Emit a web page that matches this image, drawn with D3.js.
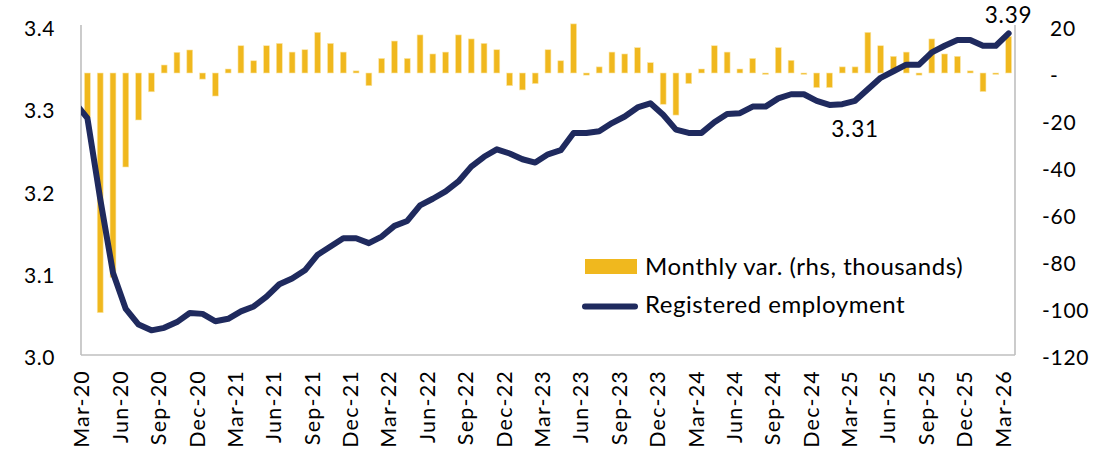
<!DOCTYPE html>
<html><head><meta charset="utf-8">
<script src="https://cdn.jsdelivr.net/npm/d3@7"></script>
<style>
body{margin:0;background:#fff}
svg{display:block}
text{font-family:Lato,"Open Sans",sans-serif;fill:#000}
</style>
</head><body>
<svg id="c" width="1120" height="456"></svg>
<script>
const months = [
 "Mar-20","Apr-20","May-20","Jun-20","Jul-20","Aug-20","Sep-20","Oct-20","Nov-20","Dec-20",
 "Jan-21","Feb-21","Mar-21","Apr-21","May-21","Jun-21","Jul-21","Aug-21","Sep-21","Oct-21","Nov-21","Dec-21",
 "Jan-22","Feb-22","Mar-22","Apr-22","May-22","Jun-22","Jul-22","Aug-22","Sep-22","Oct-22","Nov-22","Dec-22",
 "Jan-23","Feb-23","Mar-23","Apr-23","May-23","Jun-23","Jul-23","Aug-23","Sep-23","Oct-23","Nov-23","Dec-23",
 "Jan-24","Feb-24","Mar-24","Apr-24","May-24","Jun-24","Jul-24","Aug-24","Sep-24","Oct-24","Nov-24","Dec-24",
 "Jan-25","Feb-25","Mar-25","Apr-25","May-25","Jun-25","Jul-25","Aug-25","Sep-25","Oct-25","Nov-25","Dec-25",
 "Jan-26","Feb-26","Mar-26"];

// Monthly variation, thousands (right axis)
const monthlyVar = [
 -19,-102,-87,-40,-20,-8,3.4,8.8,9.8,-2.6,
 -9.8,1.7,11.6,5.2,11.6,12.6,8.9,9.9,17.3,12.6,8.9,0.9,
 -5.4,6.2,13.6,6.2,16.2,8.1,8.9,16.2,14.5,12.6,9.9,-5.4,
 -7.2,-4.5,9.9,5.2,20.9,-0.9,2.6,8.9,8.1,10.8,4.4,-13.3,
 -17.9,-4.5,1.7,11.6,8.9,1.7,6.2,-0.6,10.8,5.4,-0.6,-6.2,
 -6.2,2.6,2.6,17.3,11.6,7.1,8.9,-0.9,14.5,8.1,7.1,0.9,
 -7.9,-0.6,15.5];

// Registered employment, millions (left axis)
const employmentPrior = 3.307; // Feb-20, just left of the plot
const employment = [
 3.288,3.190,3.100,3.056,3.037,3.030,3.033,3.040,3.051,3.050,
 3.041,3.044,3.053,3.059,3.071,3.086,3.093,3.103,3.122,3.132,3.142,3.142,
 3.136,3.144,3.157,3.163,3.182,3.190,3.199,3.211,3.229,3.241,3.250,3.245,
 3.238,3.234,3.244,3.249,3.270,3.270,3.272,3.282,3.290,3.301,3.306,3.292,
 3.274,3.270,3.270,3.283,3.293,3.294,3.302,3.302,3.312,3.317,3.317,3.309,
 3.304,3.305,3.309,3.323,3.337,3.345,3.353,3.353,3.368,3.376,3.383,3.383,
 3.376,3.376,3.391];

const xTickLabels = ["Mar-20","Jun-20","Sep-20","Dec-20","Mar-21","Jun-21","Sep-21","Dec-21",
 "Mar-22","Jun-22","Sep-22","Dec-22","Mar-23","Jun-23","Sep-23","Dec-23","Mar-24","Jun-24",
 "Sep-24","Dec-24","Mar-25","Jun-25","Sep-25","Dec-25","Mar-26"];
const leftTicks = [3.0,3.1,3.2,3.3,3.4];
const rightTicks = [-120,-100,-80,-60,-40,-20,0,20];
const annotations = [{month:"Mar-25", value:3.31, text:"3.31", pos:"below"},
                     {month:"Mar-26", value:3.39, text:"3.39", pos:"above"}];

const BAR = "#F0B81E", LINE = "#1F2A5E", AXIS = "#BFBFBF";
const L = 81, R = 1015, T = 26, B = 355;

const svg = d3.select("#c");
const x = d3.scaleBand().domain(months).range([L, R]).paddingInner(0.54).paddingOuter(0.27);
const step = x.step(), bw = x.bandwidth();
const cx = m => x(m) + bw / 2;
const yL = d3.scaleLinear().domain([3.0, 3.4]).range([B, T]);
const yR = d3.scaleLinear().domain([-120, 20]).range([B, T]);

// bars
svg.append("g").selectAll("rect").data(monthlyVar).join("rect")
  .attr("x", (d, i) => x(months[i]))
  .attr("width", bw)
  .attr("y", d => yR(Math.max(0, d)))
  .attr("height", d => Math.max(0.8, Math.abs(yR(d) - yR(0))))
  .attr("fill", BAR)
  .attr("stroke", "#FBE6A8").attr("stroke-width", 0.6);

// axes lines
const ax = svg.append("g").attr("stroke", AXIS).attr("stroke-width", 1.6).attr("fill", "none");
ax.append("line").attr("x1", L).attr("x2", L).attr("y1", T - 1).attr("y2", B);
ax.append("line").attr("x1", R).attr("x2", R).attr("y1", T - 1).attr("y2", B);
ax.append("line").attr("x1", L).attr("x2", R).attr("y1", B).attr("y2", B);

// line
svg.append("clipPath").attr("id", "clip").append("rect")
  .attr("x", L).attr("y", 0).attr("width", R - L + 20).attr("height", 456);
const pts = [[x(months[0]) + bw / 2 - step, employmentPrior]]
  .concat(employment.map((v, i) => [cx(months[i]), v]));
svg.append("path").datum(pts)
  .attr("clip-path", "url(#clip)")
  .attr("d", d3.line().x(d => d[0]).y(d => yL(d[1])))
  .attr("fill", "none").attr("stroke", LINE).attr("stroke-width", 6)
  .attr("stroke-linejoin", "round").attr("stroke-linecap", "round");

// left axis labels
svg.append("g").selectAll("text").data(leftTicks).join("text")
  .attr("x", 55).attr("y", d => yL(d) + 1.5)
  .attr("text-anchor", "end").attr("dominant-baseline", "central")
  .style("font-size", "21px").style("letter-spacing", "0.6px")
  .text(d => d3.format(".1f")(d));

// right axis labels (accounting style: zero shown as "-")
svg.append("g").selectAll("text").data(rightTicks).join("text")
  .attr("x", d => d < 0 ? 1042 : 1050).attr("y", d => yR(d) + 1.5)
  .attr("text-anchor", "start").attr("dominant-baseline", "central")
  .style("font-size", "21px").style("letter-spacing", "0.7px")
  .text(d => d === 0 ? "-" : d3.format("d")(d).replace("−", "-"));

// x labels
svg.append("g").selectAll("text").data(xTickLabels).join("text")
  .attr("transform", d => `translate(${cx(d) + 2},370) rotate(-90)`)
  .attr("text-anchor", "end")
  .style("font-size", "21.5px").style("letter-spacing", "1.2px")
  .text(d => d);

// annotations
svg.append("g").selectAll("text").data(annotations).join("text")
  .attr("x", d => cx(d.month))
  .attr("y", d => d.pos === "above" ? yL(d.value) - 11 : yL(d.value) + 37)
  .attr("text-anchor", "middle")
  .style("font-size", "22.5px").style("letter-spacing", "0.8px")
  .text(d => d.text);

// legend
const lg = svg.append("g");
lg.append("rect").attr("x", 585).attr("y", 259).attr("width", 52).attr("height", 15).attr("fill", BAR);
lg.append("line").attr("x1", 585).attr("x2", 635).attr("y1", 306.5).attr("y2", 306.5)
  .attr("stroke", LINE).attr("stroke-width", 6).attr("stroke-linecap", "round");
lg.append("text").attr("x", 645).attr("y", 275).style("font-size", "24px").style("letter-spacing", "0.55px")
  .text("Monthly var. (rhs, thousands)");
lg.append("text").attr("x", 645).attr("y", 313).style("font-size", "24px").style("letter-spacing", "0.55px")
  .text("Registered employment");
</script>
</body></html>
